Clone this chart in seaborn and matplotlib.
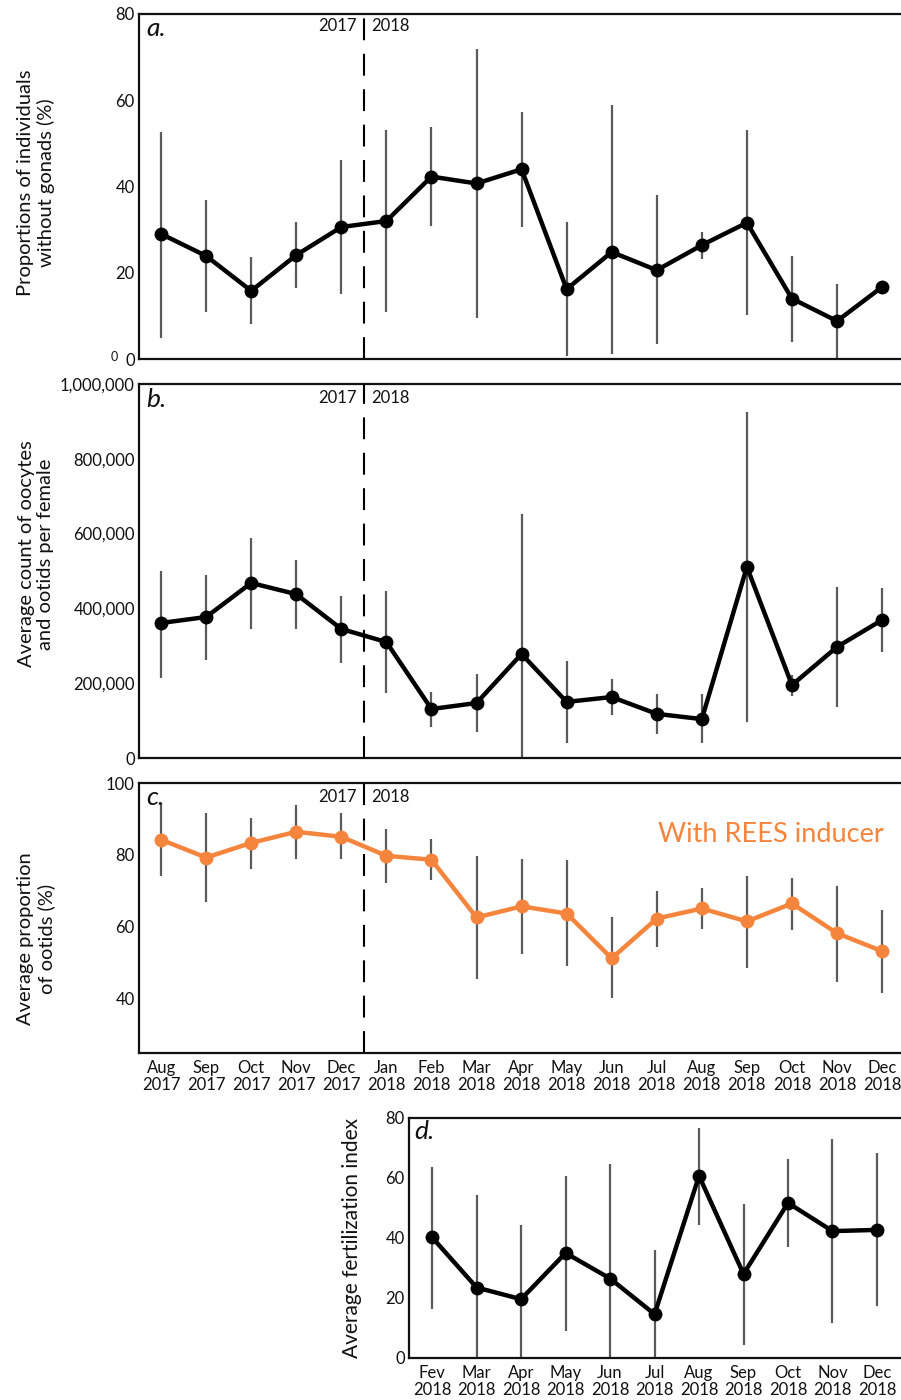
import numpy as np
import pandas as pd
import matplotlib
matplotlib.use("Agg")
import matplotlib.pyplot as plt
from matplotlib.ticker import FuncFormatter
import seaborn as sns

# ---------------- data ----------------
months_main = ["Aug\n2017", "Sep\n2017", "Oct\n2017", "Nov\n2017", "Dec\n2017",
               "Jan\n2018", "Feb\n2018", "Mar\n2018", "Apr\n2018", "May\n2018",
               "Jun\n2018", "Jul\n2018", "Aug\n2018", "Sep\n2018", "Oct\n2018",
               "Nov\n2018", "Dec\n2018"]

gonad_mean = [29.0, 23.9, 15.8, 24.1, 30.6, 32.0, 42.3, 40.7, 44.0, 16.2, 24.8,
              20.6, 26.4, 31.6, 14.0, 8.8, 16.7]
gonad_low = [4.9, 10.9, 8.1, 16.5, 15.1, 11.0, 30.9, 9.4, 30.5, 0.7, 1.2,
             3.5, 23.2, 10.1, 4.0, 0.0, np.nan]
gonad_high = [52.7, 36.9, 23.7, 31.8, 46.1, 53.1, 53.8, 71.8, 57.2, 31.7, 58.9,
              38.0, 29.5, 53.0, 24.0, 17.5, np.nan]

count_mean = [361000, 377000, 468000, 438000, 345000, 310000, 131000, 147000,
              278000, 150000, 163000, 118000, 104000, 511000, 195000, 297000, 369000]
count_low = [214000, 262000, 345000, 345000, 254000, 174000, 83000, 70000,
             0, 40000, 115000, 64000, 40000, 96000, 166000, 136000, 283000]
count_high = [500000, 489000, 588000, 529000, 433000, 447000, 176000, 225000,
              652000, 259000, 211000, 171000, 171000, 925000, 222000, 457000, 455000]

ootid_mean = [84.2, 79.2, 83.3, 86.4, 85.0, 79.7, 78.6, 62.5, 65.6, 63.6, 51.1,
              62.2, 65.0, 61.4, 66.4, 58.1, 53.1]
ootid_low = [74.2, 66.7, 76.1, 78.9, 78.9, 72.2, 73.0, 45.3, 52.2, 48.9, 40.0,
             54.2, 59.4, 48.3, 58.9, 44.4, 41.4]
ootid_high = [94.4, 91.7, 90.3, 93.9, 91.7, 87.2, 84.4, 79.7, 78.9, 78.6, 62.5,
              70.0, 70.8, 74.2, 73.6, 71.4, 64.7]

months_fert = ["Fev\n2018", "Mar\n2018", "Apr\n2018", "May\n2018", "Jun\n2018",
               "Jul\n2018", "Aug\n2018", "Sep\n2018", "Oct\n2018", "Nov\n2018",
               "Dec\n2018"]
fert_mean = [40.2, 23.5, 19.6, 35.0, 26.5, 14.6, 60.7, 28.0, 51.7, 42.3, 42.7]
fert_low = [16.5, 0.0, 0.0, 9.1, 0.0, 0.0, 44.3, 4.3, 37.0, 11.6, 17.2]
fert_high = [63.7, 54.3, 44.3, 60.6, 64.6, 35.9, 76.8, 51.5, 66.4, 72.9, 68.4]

# ---------------- style ----------------
sns.set_theme(style="white")
plt.rcParams["font.family"] = ["Lato", "DejaVu Sans"]
plt.rcParams["text.color"] = "#111111"

BLACK = "#000000"
ORANGE = "#F5843C"
ERR = "#5a5a5a"
W, H = 901, 1400

fig = plt.figure(figsize=(W / 100, H / 100), dpi=100)


def px_axes(left, top, right, bottom):
    return fig.add_axes([left / W, 1 - bottom / H, (right - left) / W, (bottom - top) / H])


ax_a = px_axes(139, 14, 901, 359)
ax_b = px_axes(139, 384, 901, 758)
ax_c = px_axes(139, 783, 901, 1053)
ax_d = px_axes(409, 1118, 901, 1358)


def draw(ax, mean, low, high, color):
    x = np.arange(len(mean))
    df = pd.DataFrame({"x": x, "y": mean})
    ax.vlines(x, low, high, color=ERR, lw=1.6, zorder=2)
    sns.lineplot(data=df, x="x", y="y", ax=ax, color=color, lw=3.2,
                 marker="o", markersize=10, markeredgewidth=0,
                 markerfacecolor=color, zorder=3)
    ax.set_xlabel("")
    ax.set_ylabel("")


def style(ax, xlim):
    ax.set_xlim(*xlim)
    for s in ["left", "bottom", "top"]:
        ax.spines[s].set_visible(True)
        ax.spines[s].set_color("#111111")
        ax.spines[s].set_linewidth(1.6)
    ax.spines["right"].set_visible(False)
    ax.tick_params(axis="y", length=0, pad=3, labelsize=12, colors="#111111")
    ax.tick_params(axis="x", length=0, pad=5, labelsize=12, colors="#111111")
    ax.grid(False)


draw(ax_a, gonad_mean, gonad_low, gonad_high, BLACK)
draw(ax_b, count_mean, count_low, count_high, BLACK)
draw(ax_c, ootid_mean, ootid_low, ootid_high, ORANGE)
draw(ax_d, fert_mean, fert_low, fert_high, BLACK)

main_xlim = (-0.49, 16.42)
for ax in (ax_a, ax_b, ax_c):
    style(ax, main_xlim)
    ax.axvline(4.5, color=BLACK, lw=1.5, dashes=(10.5, 6.5), zorder=1)
    ax.set_xticks(np.arange(len(months_main)))
style(ax_d, (-0.52, 10.54))

ax_a.set_ylim(0, 80)
ax_a.set_yticks([0, 20, 40, 60, 80])
ax_a.set_xticklabels([])

ax_b.set_ylim(0, 1000000)
ax_b.set_yticks([0, 200000, 400000, 600000, 800000, 1000000])
ax_b.yaxis.set_major_formatter(FuncFormatter(lambda v, p: f"{int(v):,}"))
ax_b.set_xticklabels([])

ax_c.set_ylim(24.7, 100)
ax_c.set_yticks([40, 60, 80, 100])
ax_c.set_xticklabels(months_main, linespacing=1.1)

ax_d.set_ylim(0, 80)
ax_d.set_yticks([0, 20, 40, 60, 80])
ax_d.set_xticks(np.arange(len(months_fert)))
ax_d.set_xticklabels(months_fert, linespacing=1.1)

# year labels at the dashed line
for ax, yf in ((ax_a, 0.965), (ax_b, 0.963), (ax_c, 0.948)):
    ax.annotate("2017", xy=(4.5, yf), xycoords=("data", "axes fraction"),
                xytext=(-5, 0), textcoords="offset points", ha="right", va="center",
                fontsize=12)
    ax.annotate("2018", xy=(4.5, yf), xycoords=("data", "axes fraction"),
                xytext=(5, 0), textcoords="offset points", ha="left", va="center",
                fontsize=12)

# panel letters
for ax, lab in ((ax_a, "a."), (ax_b, "b."), (ax_c, "c."), (ax_d, "d.")):
    ax.text(0.010, 0.99, lab, transform=ax.transAxes, ha="left", va="top",
            fontsize=19, style="italic")

ax_c.text(0.978, 0.81, "With REES inducer", transform=ax_c.transAxes, ha="right",
          va="center", fontsize=19.5, color=ORANGE)

# y labels
fig.text(36 / W, 1 - 183 / H, "Proportions of individuals\nwithout gonads (%)",
         rotation=90, ha="center", va="center", fontsize=14.5, linespacing=1.2)
fig.text(36 / W, 1 - 554 / H, "Average count of oocytes\nand ootids per female",
         rotation=90, ha="center", va="center", fontsize=14.5, linespacing=1.2)
fig.text(36 / W, 1 - 939 / H, "Average proportion\nof ootids (%)",
         rotation=90, ha="center", va="center", fontsize=14.5, linespacing=1.2)
fig.text(352 / W, 1 - 1238 / H, "Average fertilization index",
         rotation=90, ha="center", va="center", fontsize=15)

# stray small zero at panel a
fig.text(114 / W, 1 - 357 / H, "0", ha="center", va="center", fontsize=9)

fig.savefig("out.png", dpi=100, facecolor="white")
